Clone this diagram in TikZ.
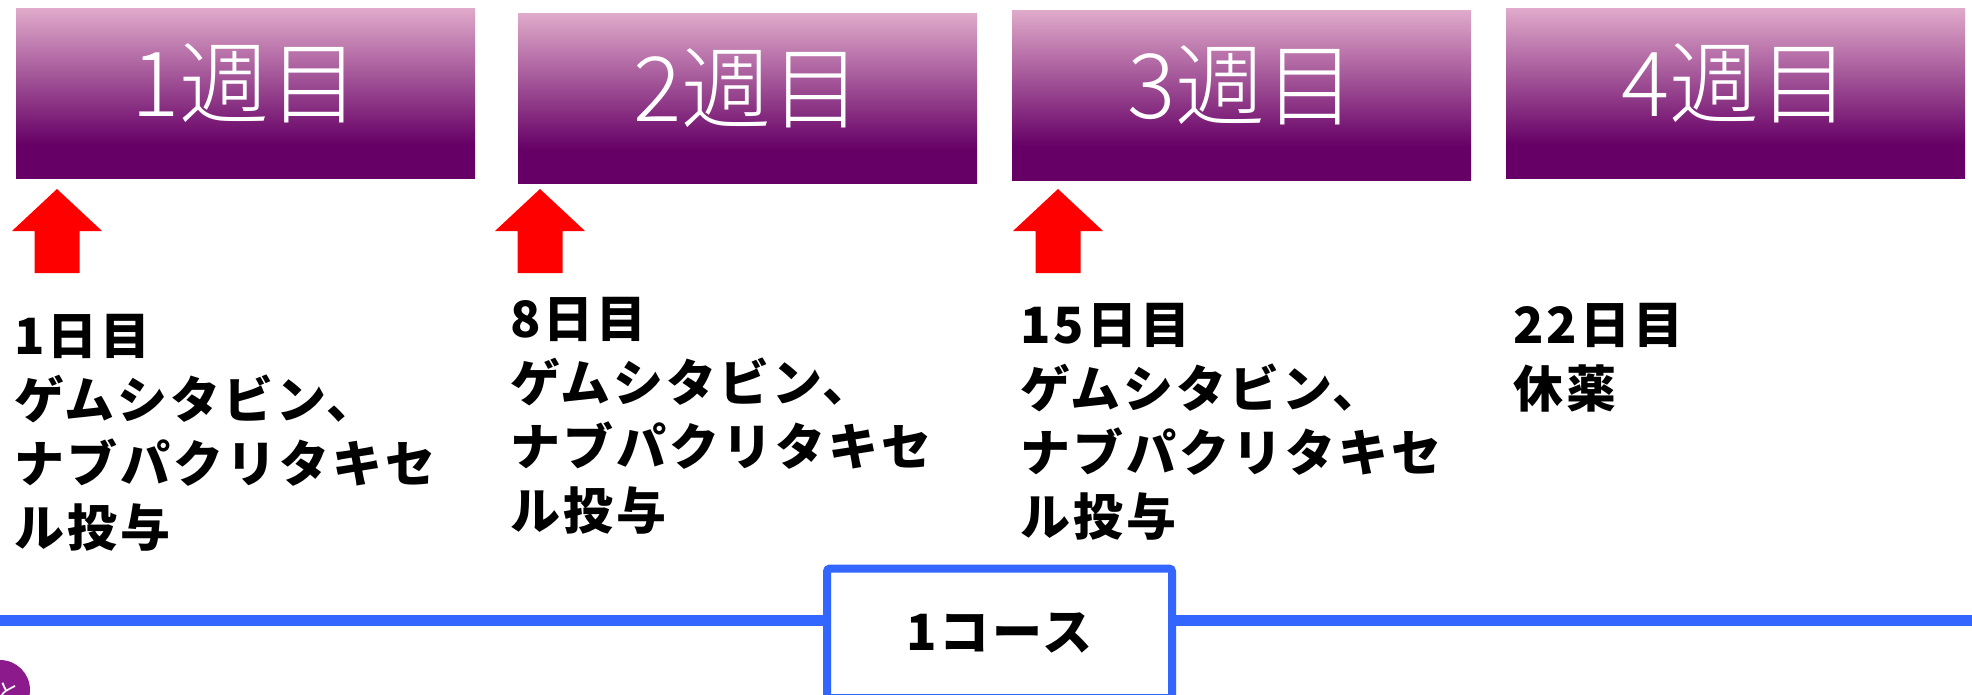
\documentclass[tikz,border=0pt]{standalone}
\usepackage{fontspec}
\setmainfont{Noto Sans CJK JP}
\IfFontExistsTF{Noto Sans CJK JP Light}
  {\newfontfamily\hdrfont{Noto Sans CJK JP Light}}
  {\IfFontExistsTF{Noto Sans CJK JP DemiLight}
    {\newfontfamily\hdrfont{Noto Sans CJK JP DemiLight}}
    {\newfontfamily\hdrfont{Noto Sans CJK JP}}}
\definecolor{hdrlight}{RGB}{224,170,202}
\definecolor{hdrdark}{RGB}{102,0,102}
\definecolor{arrowred}{RGB}{255,0,0}
\definecolor{lineblue}{RGB}{51,102,255}
\definecolor{dotpurple}{RGB}{140,26,140}
\pgfdeclareverticalshading{hdrshade}{100bp}{color(0bp)=(hdrdark); color(35bp)=(hdrdark); color(75bp)=(hdrlight); color(100bp)=(hdrlight)}
\tikzset{
  hdr/.style={rectangle, anchor=north west, minimum width=459pt, minimum height=170pt,
    inner sep=0pt, shading=hdrshade, text=white, text height=74pt, text depth=27pt,
    font=\hdrfont\fontsize{90}{90}\selectfont},
  body/.style={anchor=north west, inner sep=0pt, align=left,
    font=\fontsize{50}{64}\selectfont\bfseries\addfontfeatures{LetterSpace=6}},
  uparrow/.pic={\fill[arrowred] (-22.5,84) -- (-22.5,42) -- (-45,42) -- (0,0) -- (45,42) -- (22.5,42) -- (22.5,84) -- cycle;},
  coursebox/.style={rectangle, anchor=north west, draw=lineblue, line width=8pt, fill=white,
    rounded corners=3pt, minimum width=345pt, minimum height=129.5pt, inner sep=0pt,
    font=\fontsize{50}{50}\selectfont\bfseries\addfontfeatures{LetterSpace=5}},
  timeline/.style={draw=lineblue, line width=11pt}
}
\begin{document}
\begin{tikzpicture}[x=1pt, y=-1pt]
\useasboundingbox (0,0) rectangle (1972,694);
% header boxes
\node[hdr, shade] (w1) at (16,8) {1週目};
\node[hdr, shade] (w2) at (518,13) {2週目};
\node[hdr, shade] (w3) at (1012,10) {3週目};
\node[hdr, shade] (w4) at (1506,8) {4週目};
% arrows
\pic at (57,189) {uparrow};
\pic at (540,189) {uparrow};
\pic at (1058,189) {uparrow};
% texts
\node[body] (d1) at (14,314) {1日目\\ゲムシタビン、\\ナブパクリタキセ\\ル投与};
\node[body] (d8) at (510,297) {8日目\\ゲムシタビン、\\ナブパクリタキセ\\ル投与};
\node[body] (d15) at (1020,303) {15日目\\ゲムシタビン、\\ナブパクリタキセ\\ル投与};
\node[body] (d22) at (1513,303) {22日目\\休薬};
% timeline
\coordinate (tl) at (0,620.5);
\coordinate (tr) at (1972,620.5);
\node[coursebox] (course) at (823,564.5) {1コース};
\draw[timeline] (tl) -- (course.west |- tl);
\draw[timeline] (course.east |- tr) -- (tr);
% corner badge
\node[circle, fill=dotpurple, minimum size=60pt, inner sep=0pt] (badge) at (0,690) {};
\node[text=white, font=\fontsize{24}{24}\selectfont, inner sep=0pt] (badgetxt) at (8,692) {と};
\end{tikzpicture}
\end{document}
